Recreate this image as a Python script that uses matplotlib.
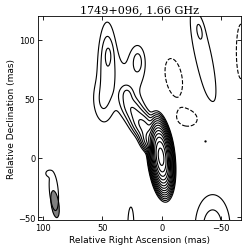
#!/usr/bin/env python3
"""VLBI contour map of 1749+096 at 1.66 GHz, rebuilt from Gaussian components."""

import numpy as np
import matplotlib
matplotlib.use("Agg")
import matplotlib.pyplot as plt
from matplotlib.patches import Ellipse

# model components: RA offset (mas), Dec offset (mas), peak (units of lowest
# contour), FWHM major (mas), FWHM minor (mas), position angle (deg, N through E)
COMP_X = [0.5, 7.0, 15.0, 24.0, 29.0, 46.0, 45.0, 20.0, 52.0, 31.0,
          -35.0, -32.0, 91.0, 26.0, -43.0, -37.0, -4.0, 96.0,
          -10.0, -23.0, -67.0]
COMP_Y = [1.0, 14.0, 27.0, 40.0, 54.0, 80.0, 87.0, 82.0, 46.0, 60.0,
          86.0, 108.0, -28.0, -56.0, -58.0, 14.0, 44.0, -13.0,
          68.0, 33.0, 90.0]
COMP_PEAK = [11500.0, 70.0, 18.0, 7.0, 3.0, 2.7, 2.0, 2.0, 1.3, 1.3,
             1.7, 1.0, 1.6, 1.5, 2.6, 1.06, 1.06, 1.06,
             -1.45, -1.25, -1.35]
COMP_MAJ = [21.0, 13.0, 16.0, 20.0, 10.0, 55.0, 14.0, 22.0, 30.0, 60.0,
            92.0, 14.0, 40.0, 38.0, 46.0, 3.0, 3.0, 4.0,
            45.0, 24.0, 70.0]
COMP_MIN = [6.5, 9.0, 10.0, 10.0, 7.0, 11.0, 5.0, 10.0, 12.0, 34.0,
            16.0, 5.0, 9.0, 6.5, 25.0, 3.0, 3.0, 4.0,
            20.0, 18.0, 12.0]
COMP_PA = [6.0, 35.0, 35.0, 32.0, 10.0, 0.0, 0.0, 0.0, 5.0, 15.0,
           12.0, 10.0, 5.0, 0.0, 0.0, 0.0, 0.0, 0.0,
           10.0, 90.0, 0.0]

# contour levels in units of the lowest one
LEVELS = [-1] + [2 ** k for k in range(14)]

# restoring beam
BEAM_X, BEAM_Y = 90.0, -39.0
BEAM_MAJ, BEAM_MIN, BEAM_PA = 23.0, 6.5, 8.0


def model(xx, yy):
    img = np.zeros_like(xx)
    for x0, y0, s, bmaj, bmin, pa in zip(COMP_X, COMP_Y, COMP_PEAK,
                                         COMP_MAJ, COMP_MIN, COMP_PA):
        t = np.radians(pa)
        dx, dy = xx - x0, yy - y0
        u = dx * np.sin(t) + dy * np.cos(t)   # along major axis
        v = dx * np.cos(t) - dy * np.sin(t)   # along minor axis
        img += s * np.exp(-4 * np.log(2) * ((u / bmaj) ** 2 + (v / bmin) ** 2))
    return img


def plot():
    x = np.arange(115, -80, -0.4)
    y = np.arange(-75, 130, 0.4)
    xx, yy = np.meshgrid(x, y)
    img = model(xx, yy)

    fig = plt.figure(figsize=(2.49, 2.53), dpi=100)
    ax = fig.add_axes([0.153, 0.126, 0.815, 0.807])
    ax.contour(xx, yy, img, levels=LEVELS, colors="k", linewidths=0.8)
    ax.add_patch(Ellipse((BEAM_X, BEAM_Y), BEAM_MIN, BEAM_MAJ, angle=-BEAM_PA,
                         facecolor="#808080", edgecolor="k", linewidth=0.8))

    ax.set_xlim(104.3, -67)
    ax.set_ylim(-52.5, 120)
    ax.set_xticks([100, 50, 0, -50])
    ax.set_yticks([-50, 0, 50, 100])
    ax.tick_params(direction="in", top=True, right=True, labelsize=6,
                   length=3, width=0.6, pad=2)
    for sp in ax.spines.values():
        sp.set_linewidth(0.6)
    ax.set_xlabel("Relative Right Ascension (mas)", fontsize=6.5, labelpad=2)
    ax.set_ylabel("Relative Declination (mas)", fontsize=6.5, labelpad=1)
    ax.set_title("1749+096, 1.66 GHz", fontsize=8, family="DejaVu Serif", pad=3)

    fig.savefig("out.png", dpi=100)


if __name__ == "__main__":
    plot()
